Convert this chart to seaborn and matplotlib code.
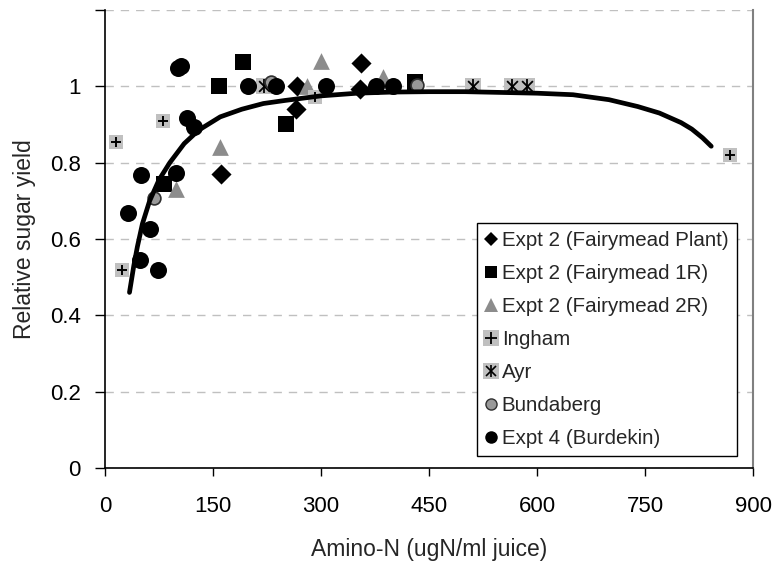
import matplotlib
matplotlib.use("Agg")
import matplotlib.pyplot as plt
import seaborn as sns
from matplotlib.lines import Line2D

# ---------------- data ----------------
series_names = ["Expt 2 (Fairymead Plant)", "Expt 2 (Fairymead 1R)", "Expt 2 (Fairymead 2R)",
                "Ingham", "Ayr", "Bundaberg", "Expt 4 (Burdekin)"]

plant_x = [161, 265, 266, 354, 355]
plant_y = [0.771, 0.941, 1.0, 0.994, 1.061]

r1_x = [82, 158, 191, 252, 431]
r1_y = [0.745, 1.0, 1.065, 0.902, 1.011]

r2_x = [99, 160, 281, 300, 386]
r2_y = [0.732, 0.841, 1.0, 1.066, 1.024]

ingham_x = [15, 24, 81, 291, 868]
ingham_y = [0.854, 0.52, 0.908, 0.972, 0.821]

ayr_x = [221, 511, 565, 586]
ayr_y = [1.0, 1.0, 1.0, 1.0]

bund_x = [68, 231, 433]
bund_y = [0.708, 1.011, 1.003]

burd_x = [32, 48, 50, 62, 73, 99, 101, 106, 114, 123, 199, 238, 307, 376, 400]
burd_y = [0.668, 0.544, 0.767, 0.626, 0.518, 0.774, 1.047, 1.052, 0.918, 0.893,
          1.0, 1.0, 1.0, 1.0, 1.0]

# fitted response curve
curve_x = [34, 40, 45, 52, 62, 75, 90, 110, 130, 160, 190, 220, 250, 300, 350, 400,
           450, 500, 550, 600, 650, 700, 740, 770, 800, 815, 830, 842]
curve_y = [0.46, 0.53, 0.58, 0.64, 0.70, 0.755, 0.80, 0.85, 0.885, 0.92, 0.94, 0.955,
           0.963, 0.975, 0.982, 0.985, 0.986, 0.986, 0.984, 0.982, 0.978, 0.965, 0.947,
           0.93, 0.905, 0.888, 0.865, 0.843]

x_ticks = [0, 150, 300, 450, 600, 750, 900]
y_ticks = [0, 0.2, 0.4, 0.6, 0.8, 1.0, 1.2]
y_tick_labels = ["0", "0.2", "0.4", "0.6", "0.8", "1", ""]
x_label = "Amino-N (ugN/ml juice)"
y_label = "Relative sugar yield"

# ---------------- styling ----------------
sns.set_style("white")
plt.rcParams["font.family"] = ["Liberation Sans", "DejaVu Sans"]

GREY_TRI = "#8c8c8c"
GREY_BOX = "#c0c0c0"
GREY_BUND = "#999999"

fig = plt.figure(figsize=(7.78, 5.62), dpi=100)
W, H = 778, 562
ax = fig.add_axes([105 / W, 1 - 468 / H, 648 / W, 458 / H])

ax.set_xlim(0, 900)
ax.set_ylim(0, 1.2)

ax.yaxis.grid(True, color="#c0c0c0", linestyle=(0, (6, 5)), linewidth=1)
ax.xaxis.grid(False)
ax.set_axisbelow(True)

kw = dict(ax=ax, legend=False)
sns.scatterplot(x=plant_x, y=plant_y, marker="D", s=105, color="black",
                edgecolor="black", linewidth=0, zorder=3, **kw)
sns.scatterplot(x=r1_x, y=r1_y, marker="s", s=140, color="black",
                edgecolor="black", linewidth=0, zorder=3, **kw)
sns.scatterplot(x=r2_x, y=r2_y, marker="^", s=145, color=GREY_TRI,
                edgecolor=GREY_TRI, linewidth=0, zorder=3, **kw)
sns.scatterplot(x=ingham_x, y=ingham_y, marker="s", s=110, color=GREY_BOX,
                edgecolor=GREY_BOX, linewidth=0, zorder=3, **kw)
sns.scatterplot(x=ingham_x, y=ingham_y, marker="+", s=55, color="black",
                linewidth=1.4, zorder=3.1, **kw)
sns.scatterplot(x=ayr_x, y=ayr_y, marker="s", s=135, color=GREY_BOX,
                edgecolor=GREY_BOX, linewidth=0, zorder=3, **kw)
sns.scatterplot(x=ayr_x, y=ayr_y, marker="x", s=60, color="black",
                linewidth=1.3, zorder=3.1, **kw)
sns.scatterplot(x=ayr_x, y=ayr_y, marker="|", s=90, color="black",
                linewidth=1.3, zorder=3.1, **kw)
sns.scatterplot(x=bund_x, y=bund_y, marker="o", s=85, color=GREY_BUND,
                edgecolor="#303030", linewidth=1.2, zorder=3.2, **kw)
sns.scatterplot(x=burd_x, y=burd_y, marker="o", s=150, color="black",
                edgecolor="black", linewidth=0, zorder=3.3, **kw)

sns.lineplot(x=curve_x, y=curve_y, ax=ax, color="black", linewidth=3.4,
             sort=False, estimator=None, zorder=5)

# axes decoration
ax.set_xticks(x_ticks)
ax.set_xticklabels([str(t) for t in x_ticks])
ax.set_yticks(y_ticks)
ax.set_yticklabels(y_tick_labels)
ax.tick_params(axis="x", direction="out", length=6, width=1, pad=14,
               labelsize=16, colors="black", bottom=True, top=False)
ax.tick_params(axis="y", direction="out", length=7, width=1, pad=10.5,
               labelsize=16, colors="black", left=True, right=False)
ax.set_xlabel(x_label, fontsize=16.5, labelpad=15)
ax.set_ylabel(y_label, fontsize=16.5, labelpad=10)

for s in ["left", "bottom"]:
    ax.spines[s].set_color("black")
    ax.spines[s].set_linewidth(1.2)
ax.spines["top"].set_visible(False)
ax.spines["right"].set_color("#808080")
ax.spines["right"].set_linewidth(1.5)

# legend
def mk(marker, ms, fc, ec=None, mew=0.0):
    return Line2D([], [], linestyle="None", marker=marker, markersize=ms,
                  markerfacecolor=fc, markeredgecolor=ec if ec else fc,
                  markeredgewidth=mew)

handles = [
    mk("D", 7, "black"),
    mk("s", 8, "black"),
    mk("^", 10, GREY_TRI),
    (mk("s", 11, GREY_BOX), mk("+", 8, "black", "black", 1.3)),
    (mk("s", 12, GREY_BOX), mk("x", 7, "black", "black", 1.2),
     mk("|", 9, "black", "black", 1.2)),
    mk("o", 8, GREY_BUND, "#303030", 1.0),
    mk("o", 9, "black"),
]
leg = ax.legend(handles, series_names, loc="upper left",
                bbox_to_anchor=(477 / W, 1 - 223 / H), bbox_transform=fig.transFigure,
                frameon=True, fancybox=False, framealpha=1, edgecolor="black",
                borderaxespad=0, fontsize=14.8, handlelength=0.6, handletextpad=0.2,
                labelspacing=0.68, borderpad=0.4)
leg.get_frame().set_linewidth(1.0)
leg.set_zorder(10)

fig.savefig("out.png", dpi=100)
